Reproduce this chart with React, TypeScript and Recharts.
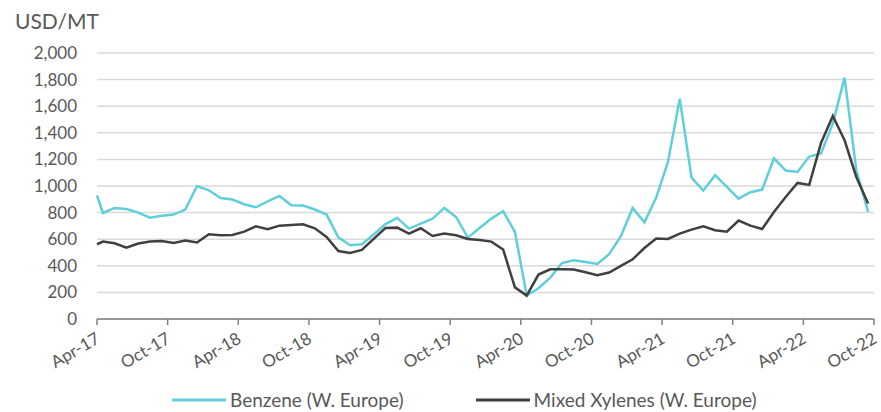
import React from 'react';
import { LineChart, Line, XAxis, YAxis, CartesianGrid, Legend } from 'recharts';

// Month offsets from Apr-17 (first point sits on the Apr-17 tick, the rest mid-month)
const monthOffsets: number[] = [0, ...Array.from({ length: 66 }, (_, i) => i + 0.5)];

const benzene: number[] = [
  930, 797, 835, 827, 800, 762, 777, 785, 823, 1000, 968, 910, 898, 863, 840, 885, 925,
  855, 853, 823, 785, 614, 554, 562, 635, 714, 760, 680, 717, 755, 835, 767, 612, 684,
  755, 810, 654, 176, 231, 311, 421, 441, 429, 414, 487, 622, 835, 727, 913, 1181, 1657,
  1063, 965, 1081, 993, 905, 953, 973, 1208, 1116, 1105, 1221, 1244, 1469, 1815, 1118, 805,
];

const mixedXylenes: number[] = [
  562, 582, 569, 537, 567, 582, 587, 572, 590, 575, 637, 630, 632, 657, 697, 675, 702,
  707, 712, 682, 617, 511, 496, 519, 602, 684, 687, 642, 682, 624, 642, 630, 602, 594,
  582, 522, 238, 176, 334, 374, 374, 372, 351, 329, 349, 399, 449, 534, 605, 602, 642,
  672, 697, 667, 657, 740, 702, 677, 805, 917, 1023, 1008, 1324, 1527, 1344, 1068, 868,
];

const tickOffsets: number[] = [0, 6, 12, 18, 24, 30, 36, 42, 48, 54, 60, 66];
const tickLabels: string[] = [
  'Apr-17', 'Oct-17', 'Apr-18', 'Oct-18', 'Apr-19', 'Oct-19',
  'Apr-20', 'Oct-20', 'Apr-21', 'Oct-21', 'Apr-22', 'Oct-22',
];
const yTicks: number[] = [0, 200, 400, 600, 800, 1000, 1200, 1400, 1600, 1800, 2000];

const seriesNames = ['Benzene (W. Europe)', 'Mixed Xylenes (W. Europe)'];
const seriesColors = ['#5fcfdc', '#404040'];

const data = monthOffsets.map((m, i) => ({ m, benzene: benzene[i], xylenes: mixedXylenes[i] }));

const FONT = 'Lato, "Open Sans", sans-serif';
const TEXT = '#595959';

const XTick = (props: any) => {
  const { x, y, payload } = props;
  const idx = tickOffsets.indexOf(payload.value);
  return (
    <g transform={`translate(${x + 4},${y + 15})`}>
      <text x={0} y={0} textAnchor="end" transform="rotate(-30)" fill={TEXT} fontSize={17} fontFamily={FONT}>
        {idx >= 0 ? tickLabels[idx] : ''}
      </text>
    </g>
  );
};

const renderLegend = () => (
  <div style={{ display: 'flex', alignItems: 'center', fontFamily: FONT, fontSize: 19, lineHeight: '22px', color: TEXT, whiteSpace: 'nowrap' }}>
    {seriesNames.map((name, i) => (
      <div key={name} style={{ display: 'flex', alignItems: 'center', marginLeft: i === 0 ? 172 : 72 }}>
        <svg width={54} height={6} style={{ marginRight: 4 }}>
          <line x1={0} y1={3} x2={54} y2={3} stroke={seriesColors[i]} strokeWidth={3} />
        </svg>
        <span>{name}</span>
      </div>
    ))}
  </div>
);

export default function App() {
  return (
    <div style={{ position: 'absolute', left: 0, top: 0 }}>
      <LineChart width={881} height={412} data={data} margin={{ top: 53, right: 7, bottom: 0, left: 0 }}>
        <CartesianGrid horizontal vertical={false} stroke="#d9d9d9" strokeWidth={1.5} />
        <XAxis
          dataKey="m"
          type="number"
          domain={[0, 66]}
          ticks={tickOffsets}
          interval={0}
          height={93}
          axisLine={{ stroke: '#808080', strokeWidth: 1.5 }}
          tickLine={{ stroke: '#808080', strokeWidth: 1.5 }}
          tickSize={6}
          tick={<XTick />}
        />
        <YAxis
          type="number"
          domain={[0, 2000]}
          ticks={yTicks}
          interval={0}
          width={97}
          axisLine={false}
          tickLine={false}
          tickMargin={14}
          tick={{ fill: TEXT, fontSize: 17, fontFamily: FONT }}
          tickFormatter={(v: number) => v.toLocaleString('en-US')}
          label={{
            content: () => (
              <text x={15} y={29} fill={TEXT} fontSize={21} fontFamily={FONT}>USD/MT</text>
            ),
          }}
        />
        <Legend
          layout="horizontal"
          verticalAlign="middle"
          align="center"
          content={renderLegend}
          wrapperStyle={{ top: 389, left: 0, width: 881 }}
        />
        <Line
          type="linear"
          dataKey="benzene"
          name={seriesNames[0]}
          stroke={seriesColors[0]}
          strokeWidth={2.5}
          dot={false}
          isAnimationActive={false}
        />
        <Line
          type="linear"
          dataKey="xylenes"
          name={seriesNames[1]}
          stroke={seriesColors[1]}
          strokeWidth={2.5}
          dot={false}
          isAnimationActive={false}
        />
      </LineChart>
    </div>
  );
}
